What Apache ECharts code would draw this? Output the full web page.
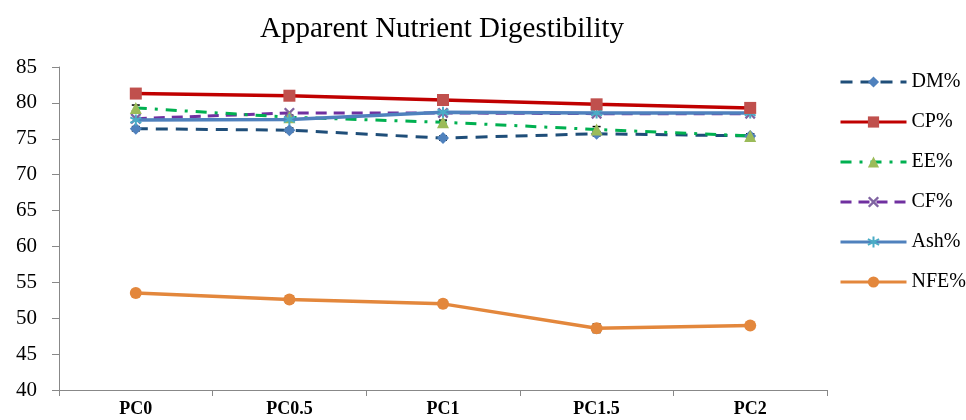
<!DOCTYPE html>
<html><head><meta charset="utf-8">
<script src="https://cdn.jsdelivr.net/npm/echarts@6/dist/echarts.min.js"></script>
<style>html,body{margin:0;padding:0;background:#fff}#c{width:966px;height:420px}</style>
</head><body><div id="c"></div>
<script>
const categories = ['PC0','PC0.5','PC1','PC1.5','PC2'];
const yTicks = [40,45,50,55,60,65,70,75,80,85];
const DM  = [76.4, 76.2, 75.1, 75.7, 75.4];
const CP  = [81.3, 81.0, 80.4, 79.8, 79.3];
const EE  = [79.3, 78.0, 77.3, 76.3, 75.4];
const CF  = [77.8, 78.6, 78.6, 78.5, 78.5];
const Ash = [77.6, 77.7, 78.7, 78.6, 78.6];
const NFE = [53.5, 52.6, 52.0, 48.6, 49.0];
const errDM  = [0.3, 0.3, 0.3, 0.3, 0.3];
const errEE  = [0.4, 0.3, 0.3, 0.4, 0.3];
const errNFE = [0.4, 0.5, 0.5, 0.6, 0.3];

const FONT = "'Liberation Serif','DejaVu Serif',serif";
const chart = echarts.init(document.getElementById('c'));

const xPath = 'path://M0,1.5L1.5,0L5,3.5L8.5,0L10,1.5L6.5,5L10,8.5L8.5,10L5,6.5L1.5,10L0,8.5L3.5,5Z';
const starPath = 'path://M5,0L5,10M0.7,2.5L9.3,7.5M0.7,7.5L9.3,2.5';

function errSeries(vals, errs) {
  return {
    type: 'custom', silent: true, z: 1,
    data: vals.map((v, i) => [i, v - errs[i], v + errs[i]]),
    renderItem: function (params, api) {
      const lo = api.coord([api.value(0), api.value(1)]);
      const hi = api.coord([api.value(0), api.value(2)]);
      const w = 4;
      const st = { stroke: '#000', lineWidth: 1.5 };
      return { type: 'group', children: [
        { type: 'line', shape: { x1: lo[0], y1: lo[1], x2: hi[0], y2: hi[1] }, style: st },
        { type: 'line', shape: { x1: lo[0]-w, y1: lo[1], x2: lo[0]+w, y2: lo[1] }, style: st },
        { type: 'line', shape: { x1: hi[0]-w, y1: hi[1], x2: hi[0]+w, y2: hi[1] }, style: st }
      ]};
    }
  };
}

chart.setOption({
  animation: false,
  backgroundColor: '#fff',
  title: {
    text: 'Apparent Nutrient Digestibility',
    left: 437, top: 10, textAlign: 'center',
    textStyle: { fontFamily: FONT, fontSize: 29, fontWeight: 'normal', color: '#000' }
  },
  grid: { left: 59, right: 139, top: 67, bottom: 30 },
  legend: {
    orient: 'vertical', left: 834, top: 67,
    itemWidth: 66, itemHeight: 14, itemGap: 20,
    data: ['DM%','CP%','EE%','CF%','Ash%','NFE%'],
    lineStyle: { width: 3 },
    textStyle: { fontFamily: FONT, fontSize: 20, color: '#000' }
  },
  xAxis: {
    type: 'category', data: categories, boundaryGap: true,
    axisLine: { lineStyle: { color: '#888', width: 1 } },
    axisTick: { show: true, length: 6, lineStyle: { color: '#888' } },
    axisLabel: { fontFamily: FONT, fontSize: 18, fontWeight: 'bold', color: '#000', margin: 10 }
  },
  yAxis: {
    type: 'value', min: yTicks[0], max: yTicks[yTicks.length-1], interval: 5,
    splitLine: { show: false },
    axisLine: { show: true, lineStyle: { color: '#888', width: 1 } },
    axisTick: { show: true, length: 7, lineStyle: { color: '#888' } },
    axisLabel: { fontFamily: FONT, fontSize: 21, color: '#000', margin: 22 }
  },
  series: [
    errSeries(DM, errDM), errSeries(EE, errEE), errSeries(NFE, errNFE),
    { name: 'DM%', type: 'line', data: DM, symbol: 'diamond', symbolSize: 12, z: 3,
      lineStyle: { color: '#1F4E79', width: 3, type: [12, 8] },
      itemStyle: { color: '#4F81BD' } },
    { name: 'CF%', type: 'line', data: CF, symbol: xPath, symbolSize: 11, z: 3,
      lineStyle: { color: '#7030A0', width: 3, type: [11, 7] },
      itemStyle: { color: '#8064A2' } },
    { name: 'EE%', type: 'line', data: EE, symbol: 'triangle', symbolSize: 12, z: 3,
      lineStyle: { color: '#00B050', width: 3, type: [11, 8, 3, 8] },
      itemStyle: { color: '#9BBB59' } },
    { name: 'Ash%', type: 'line', data: Ash, symbol: starPath, symbolSize: 11, z: 4,
      lineStyle: { color: '#4F81BD', width: 3.5 },
      itemStyle: { color: '#4BACC6', borderColor: '#4BACC6', borderWidth: 2 } },
    { name: 'CP%', type: 'line', data: CP, symbol: 'rect', symbolSize: 12, z: 5,
      lineStyle: { color: '#C00000', width: 3.5 },
      itemStyle: { color: '#C0504D' } },
    { name: 'NFE%', type: 'line', data: NFE, symbol: 'circle', symbolSize: 12, z: 3,
      lineStyle: { color: '#E3873C', width: 3.5 },
      itemStyle: { color: '#E3873C' } }
  ]
});
</script></body></html>
